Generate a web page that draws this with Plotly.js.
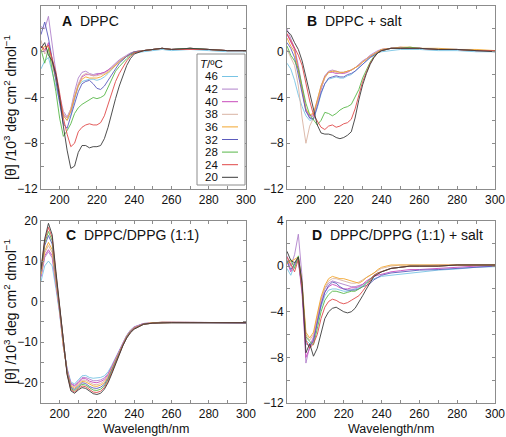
<!DOCTYPE html>
<html>
<head>
<meta charset="utf-8">
<script src="https://cdn.plot.ly/plotly-3.0.1.min.js"></script>
<style>html,body{margin:0;padding:0;background:#fff;}#chart{width:506px;height:437px;}</style>
</head>
<body>
<div id="chart"></div>
<script>
// Wavelength grid (nm)
const wavelength = [190,192,194,196,198,200,202,204,206,208,210,212,214,216,218,220,222,224,226,228,230,232,234,236,238,240,245,250,255,260,270,280,290,300];
// Temperatures (°C), legend order
const temps = ['46','42','40','38','36','32','28','24','20'];

// Panel A: DPPC
const dppc46 = [-1.5,-0.8,-0.5,-1.8,-3.0,-4.3,-5.6,-6.0,-5.5,-4.2,-3.0,-2.6,-2.5,-2.4,-2.4,-2.5,-2.4,-2.2,-1.9,-1.5,-1.2,-0.9,-0.7,-0.4,-0.2,-0.1,0.0,0.1,0.2,0.1,0.2,0.1,0.0,0.0];
const dppc42 = [2.2,2.0,3.1,0.5,-1.8,-3.8,-5.2,-5.7,-5.0,-3.5,-2.3,-1.8,-1.7,-1.9,-2.0,-1.9,-1.9,-1.8,-1.6,-1.3,-1.0,-0.7,-0.5,-0.3,-0.1,0.0,0.1,0.2,0.3,0.2,0.3,0.2,0.1,0.1];
const dppc40 = [0.5,0.0,0.8,-0.6,-2.2,-4.1,-5.5,-5.8,-5.2,-4.0,-2.9,-2.2,-2.0,-2.0,-2.1,-2.0,-1.9,-1.8,-1.6,-1.4,-1.1,-0.8,-0.6,-0.4,-0.2,0.0,0.1,0.2,0.3,0.2,0.3,0.2,0.1,0.1];
const dppc38 = [1.0,-0.2,0.2,-1.0,-2.4,-4.0,-5.4,-5.8,-5.0,-3.8,-2.8,-2.1,-1.9,-2.0,-2.1,-2.1,-2.0,-1.9,-1.7,-1.4,-1.1,-0.8,-0.6,-0.4,-0.2,0.0,0.1,0.2,0.3,0.2,0.3,0.2,0.1,0.1];
const dppc36 = [0.0,0.5,0.4,-0.8,-2.5,-4.2,-5.6,-6.0,-5.2,-4.0,-3.0,-2.4,-2.2,-2.3,-2.3,-2.3,-2.2,-2.0,-1.8,-1.5,-1.2,-0.9,-0.6,-0.4,-0.2,0.0,0.1,0.2,0.3,0.2,0.3,0.2,0.1,0.1];
const dppc32 = [1.5,2.6,1.2,-0.5,-2.5,-4.5,-6.3,-6.7,-5.6,-4.5,-3.5,-2.8,-2.6,-2.5,-2.8,-3.2,-3.3,-3.0,-2.5,-1.9,-1.4,-1.0,-0.7,-0.4,-0.2,0.0,0.1,0.2,0.3,0.2,0.3,0.2,0.1,0.1];
const dppc28 = [0.2,-1.0,0.3,-1.5,-3.5,-5.8,-7.4,-6.9,-6.3,-5.4,-4.9,-4.6,-4.4,-4.2,-4.0,-4.1,-4.0,-3.8,-3.1,-2.3,-1.7,-1.3,-0.9,-0.6,-0.3,-0.1,0.1,0.2,0.3,0.2,0.3,0.2,0.1,0.1];
const dppc24 = [0.5,0.2,0.6,-0.5,-1.8,-3.6,-5.8,-7.2,-8.3,-8.0,-7.0,-6.6,-6.4,-6.3,-6.4,-6.4,-6.2,-5.6,-4.6,-3.6,-2.6,-1.9,-1.3,-0.8,-0.4,-0.1,0.1,0.2,0.3,0.2,0.2,0.2,0.1,0.1];
const dppc20 = [0.3,0.8,-0.3,-0.8,-2.0,-4.0,-6.5,-8.6,-10.2,-10.0,-8.8,-8.2,-8.2,-8.4,-8.3,-8.3,-8.2,-7.6,-6.6,-5.3,-4.1,-3.0,-2.0,-1.2,-0.6,-0.2,0.1,0.2,0.3,0.2,0.3,0.2,0.1,0.1];

// Panel B: DPPC + salt
const dppcSalt46 = [-1.0,-1.5,-2.5,-3.8,-4.8,-5.6,-6.0,-5.9,-4.9,-3.7,-2.8,-2.4,-2.3,-2.2,-2.3,-2.3,-2.1,-2.0,-1.7,-1.4,-1.1,-0.8,-0.5,-0.3,-0.1,0.0,0.1,0.2,0.2,0.2,0.1,0.1,0.0,0.0];
const dppcSalt42 = [2.0,1.2,0.3,-1.2,-3.2,-5.0,-5.8,-5.6,-4.3,-3.0,-2.1,-1.7,-1.6,-1.7,-1.8,-1.8,-1.7,-1.6,-1.4,-1.1,-0.8,-0.6,-0.3,-0.1,0.1,0.2,0.3,0.4,0.3,0.3,0.2,0.2,0.1,0.1];
const dppcSalt40 = [1.5,0.8,0.2,-1.5,-3.5,-5.2,-5.6,-5.5,-4.4,-3.2,-2.2,-1.8,-1.8,-1.9,-1.9,-1.9,-1.8,-1.6,-1.4,-1.2,-0.9,-0.6,-0.4,-0.2,0.0,0.2,0.3,0.3,0.3,0.3,0.2,0.2,0.1,0.1];
const dppcSalt38 = [0.2,-0.5,-1.2,-3.0,-5.8,-8.0,-6.5,-5.8,-4.5,-3.2,-2.3,-1.8,-1.7,-1.8,-1.9,-1.8,-1.7,-1.6,-1.4,-1.2,-0.9,-0.6,-0.4,-0.2,0.0,0.2,0.3,0.3,0.3,0.3,0.2,0.2,0.1,0.1];
const dppcSalt36 = [1.2,0.5,0.0,-1.6,-3.4,-5.0,-5.5,-5.4,-4.2,-3.0,-2.2,-1.8,-1.7,-1.7,-1.8,-1.8,-1.7,-1.6,-1.4,-1.2,-0.9,-0.7,-0.4,-0.2,0.0,0.2,0.3,0.4,0.4,0.3,0.3,0.2,0.2,0.1];
const dppcSalt32 = [0.8,0.3,-0.5,-2.0,-3.6,-5.2,-5.8,-5.9,-4.8,-3.6,-2.8,-2.3,-2.2,-2.1,-2.2,-2.2,-2.0,-1.9,-1.7,-1.4,-1.1,-0.8,-0.5,-0.3,-0.1,0.1,0.3,0.3,0.3,0.3,0.2,0.2,0.1,0.1];
const dppcSalt28 = [0.5,-0.3,-0.8,-1.5,-3.0,-4.5,-5.5,-6.0,-6.4,-6.0,-5.3,-5.4,-5.6,-5.4,-5.1,-4.9,-4.8,-4.6,-4.0,-3.3,-2.3,-1.6,-0.9,-0.4,-0.1,0.1,0.3,0.3,0.4,0.3,0.2,0.2,0.1,0.1];
const dppcSalt24 = [1.6,1.0,0.4,-0.3,-1.2,-2.8,-4.3,-5.5,-6.1,-6.6,-6.8,-6.5,-6.4,-6.6,-6.5,-6.3,-6.2,-5.9,-5.0,-3.8,-2.6,-1.8,-1.0,-0.5,-0.1,0.1,0.3,0.3,0.3,0.3,0.2,0.2,0.1,0.1];
const dppcSalt20 = [1.8,1.5,0.8,0.2,-0.8,-2.2,-3.8,-5.2,-6.4,-7.1,-7.2,-7.2,-7.3,-7.5,-7.6,-7.5,-7.3,-7.0,-5.8,-4.2,-2.9,-1.9,-1.1,-0.5,-0.1,0.1,0.3,0.3,0.3,0.3,0.2,0.2,0.1,0.0];

// Panel C: DPPC/DPPG (1:1)
const mix46 = [5.0,8.8,10.0,8.8,3.2,-3.0,-11.2,-16.4,-19.8,-20.3,-19.3,-18.3,-18.2,-18.7,-18.9,-18.8,-18.7,-18.3,-17.3,-15.7,-13.8,-11.9,-10.0,-8.3,-7.0,-6.2,-5.4,-5.2,-5.1,-5.1,-5.1,-5.1,-5.1,-5.2];
const mix42 = [6.0,10.9,12.3,10.8,4.2,-2.6,-11.0,-16.6,-20.1,-20.6,-19.7,-18.7,-18.7,-19.2,-19.5,-19.5,-19.3,-18.8,-17.7,-16.0,-14.0,-12.1,-10.1,-8.4,-7.1,-6.3,-5.4,-5.2,-5.1,-5.1,-5.1,-5.1,-5.1,-5.2];
const mix40 = [6.3,11.3,12.8,11.3,4.5,-2.4,-11.0,-16.8,-20.3,-20.8,-20.0,-19.0,-19.0,-19.6,-19.9,-20.0,-19.7,-19.2,-18.0,-16.2,-14.2,-12.2,-10.2,-8.4,-7.1,-6.3,-5.4,-5.2,-5.1,-5.1,-5.1,-5.1,-5.1,-5.2];
const mix38 = [6.6,12.0,13.8,12.1,4.8,-2.2,-10.9,-17.0,-20.6,-21.1,-20.3,-19.4,-19.4,-20.0,-20.4,-20.5,-20.2,-19.6,-18.3,-16.4,-14.4,-12.3,-10.3,-8.5,-7.2,-6.4,-5.5,-5.2,-5.1,-5.1,-5.1,-5.1,-5.1,-5.2];
const mix36 = [6.8,12.5,14.6,12.8,5.2,-2.0,-10.8,-17.2,-20.8,-21.4,-20.6,-19.7,-19.8,-20.4,-20.8,-20.9,-20.6,-20.0,-18.6,-16.6,-14.6,-12.4,-10.4,-8.6,-7.3,-6.5,-5.5,-5.2,-5.1,-5.1,-5.1,-5.1,-5.1,-5.2];
const mix32 = [7.4,13.8,16.3,14.2,6.0,-1.6,-10.7,-17.4,-21.1,-21.7,-20.9,-20.0,-20.2,-20.9,-21.3,-21.4,-21.1,-20.4,-18.9,-16.9,-14.8,-12.6,-10.5,-8.7,-7.4,-6.6,-5.5,-5.3,-5.2,-5.2,-5.2,-5.2,-5.2,-5.3];
const mix28 = [7.6,14.4,17.3,15.0,6.5,-1.4,-10.6,-17.6,-21.4,-22.0,-21.2,-20.4,-20.6,-21.3,-21.8,-21.9,-21.6,-20.8,-19.2,-17.2,-15.0,-12.7,-10.6,-8.8,-7.5,-6.7,-5.6,-5.3,-5.2,-5.2,-5.2,-5.2,-5.2,-5.2];
const mix24 = [7.8,15.0,18.3,15.8,7.0,-1.2,-10.6,-17.8,-21.7,-22.3,-21.5,-20.8,-21.0,-21.7,-22.3,-22.4,-22.1,-21.2,-19.6,-17.5,-15.2,-12.9,-10.7,-8.9,-7.6,-6.7,-5.6,-5.3,-5.2,-5.2,-5.2,-5.2,-5.2,-5.2];
const mix20 = [8.0,15.5,19.3,16.5,7.5,-1.0,-10.5,-18.0,-22.0,-22.6,-21.8,-21.2,-21.4,-22.1,-22.7,-22.9,-22.6,-21.6,-20.0,-17.8,-15.4,-13.0,-10.8,-9.0,-7.7,-6.8,-5.6,-5.3,-5.2,-5.2,-5.2,-5.2,-5.2,-5.2];

// Panel D: DPPC/DPPG (1:1) + salt
const mixSalt46 = [-0.2,-0.8,0.1,0.4,-2.0,-6.5,-6.8,-6.5,-5.0,-3.6,-2.6,-2.1,-2.0,-2.0,-2.1,-2.2,-2.2,-2.1,-2.0,-1.9,-1.7,-1.5,-1.3,-1.1,-1.0,-0.9,-0.8,-0.7,-0.6,-0.5,-0.35,-0.25,-0.1,-0.05];
const mixSalt42 = [0.9,0.0,1.0,2.8,-1.0,-8.5,-7.0,-6.2,-4.5,-3.0,-2.0,-1.5,-1.3,-1.4,-1.5,-1.6,-1.7,-1.8,-1.8,-1.7,-1.6,-1.4,-1.1,-0.9,-0.7,-0.5,-0.2,-0.1,0.0,0.0,0.1,0.1,0.1,0.1];
const mixSalt40 = [0.4,-0.5,0.2,0.5,-2.5,-8.0,-7.2,-6.4,-4.8,-3.3,-2.3,-1.8,-1.6,-1.7,-1.9,-2.0,-2.0,-1.9,-1.9,-1.8,-1.6,-1.3,-1.1,-0.9,-0.8,-0.7,-0.5,-0.4,-0.3,-0.3,-0.2,-0.1,0.0,0.0];
const mixSalt38 = [0.6,0.0,0.3,0.6,-1.8,-6.0,-6.5,-6.0,-4.4,-2.9,-1.9,-1.3,-1.1,-1.1,-1.2,-1.3,-1.4,-1.5,-1.5,-1.4,-1.2,-1.0,-0.8,-0.6,-0.4,-0.2,0.0,0.1,0.1,0.1,0.1,0.1,0.1,0.1];
const mixSalt36 = [0.2,0.4,0.6,0.8,-1.5,-5.8,-6.3,-5.8,-4.2,-2.7,-1.7,-1.1,-0.9,-1.0,-1.1,-1.1,-1.2,-1.3,-1.4,-1.5,-1.3,-1.0,-0.8,-0.6,-0.3,-0.1,0.1,0.1,0.1,0.1,0.1,0.1,0.1,0.1];
const mixSalt32 = [0.5,-0.3,0.2,0.7,-2.2,-6.8,-7.0,-6.6,-5.0,-3.4,-2.3,-1.7,-1.4,-1.5,-1.8,-2.0,-2.1,-2.1,-2.1,-2.0,-1.8,-1.7,-1.5,-1.2,-1.0,-0.8,-0.6,-0.5,-0.4,-0.35,-0.3,-0.2,-0.1,0.0];
const mixSalt28 = [0.3,0.6,-0.2,0.9,-1.8,-6.2,-6.6,-6.9,-5.5,-4.0,-3.0,-2.5,-2.2,-2.2,-2.3,-2.4,-2.3,-2.2,-2.2,-2.0,-1.8,-1.5,-1.1,-0.8,-0.6,-0.5,-0.2,-0.1,0.0,0.0,0.0,0.1,0.1,0.1];
const mixSalt24 = [0.8,0.2,-0.5,0.6,-2.0,-6.5,-7.2,-6.8,-6.0,-4.6,-3.6,-3.1,-2.9,-3.0,-3.2,-3.3,-3.2,-3.0,-2.8,-2.6,-2.2,-1.7,-1.2,-0.8,-0.6,-0.5,-0.2,-0.1,0.0,0.0,0.0,0.1,0.1,0.1];
const mixSalt20 = [1.3,0.5,0.3,0.8,-1.5,-7.6,-6.8,-7.9,-7.2,-5.8,-4.6,-4.0,-3.7,-3.6,-3.8,-4.0,-4.1,-4.0,-3.7,-3.2,-2.6,-2.0,-1.4,-0.9,-0.7,-0.5,-0.2,-0.1,0.0,0.0,0.0,0.1,0.1,0.1];

const panelTitles = ['DPPC', 'DPPC + salt', 'DPPC/DPPG (1:1)', 'DPPC/DPPG (1:1) + salt'];
const panelLetters = ['A', 'B', 'C', 'D'];

const lineColors = ['#78c4e4','#b182cc','#c84cbc','#d9b3a3','#f2a62e','#5b5bbd','#58b848','#e04848','#3a3a3a'];

const panels = [
  [dppc46, dppc42, dppc40, dppc38, dppc36, dppc32, dppc28, dppc24, dppc20],
  [dppcSalt46, dppcSalt42, dppcSalt40, dppcSalt38, dppcSalt36, dppcSalt32, dppcSalt28, dppcSalt24, dppcSalt20],
  [mix46, mix42, mix40, mix38, mix36, mix32, mix28, mix24, mix20],
  [mixSalt46, mixSalt42, mixSalt40, mixSalt38, mixSalt36, mixSalt32, mixSalt28, mixSalt24, mixSalt20]
];

const W = 506, H = 437;
const px = x => x / W;
const py = y => 1 - y / H;

const traces = [];
panels.forEach((series, p) => {
  const sfx = p === 0 ? '' : String(p + 1);
  series.forEach((vals, i) => {
    traces.push({
      x: wavelength, y: vals, type: 'scatter', mode: 'lines',
      name: temps[i] + ' °C',
      xaxis: 'x' + sfx, yaxis: 'y' + sfx,
      line: {color: lineColors[i], width: 0.9},
      showlegend: false, hoverinfo: 'x+y+name'
    });
  });
});

const frame = '#8c8c8c';
const FAM = 'Liberation Sans, Arial, sans-serif';
const tickFont = {family: FAM, size: 12, color: '#111'};
function xAxis(dom, anchor) {
  return {domain: dom, anchor: anchor, range: [190, 300], tick0: 200, dtick: 20,
    ticks: 'inside', ticklen: 3, tickcolor: frame, tickwidth: 1,
    minor: {dtick: 10, tick0: 190, ticks: 'inside', ticklen: 3, tickcolor: frame},
    showline: true, linecolor: frame, linewidth: 1, mirror: 'ticks',
    showgrid: false, zeroline: false, tickfont: tickFont, automargin: false};
}
function yAxis(dom, anchor, range, dtick) {
  return {domain: dom, anchor: anchor, range: range, dtick: dtick, tick0: 0,
    ticks: 'inside', ticklen: 3, tickcolor: frame, tickwidth: 1,
    minor: {dtick: dtick / 2, ticks: 'inside', ticklen: 3, tickcolor: frame},
    showline: true, linecolor: frame, linewidth: 1, mirror: 'ticks',
    showgrid: false, zeroline: false, tickfont: tickFont, automargin: false};
}

const colL = [px(41), px(246)], colR = [px(287), px(495)];
const rowT = [py(189), py(6)], rowB = [py(403), py(220.5)];

const annFont = {family: FAM, size: 14, color: '#111'};
const yTitleFont = {family: FAM, size: 14, color: '#111'};
const xTitleFont = {family: FAM, size: 12.5, color: '#111'};
const legFont = {family: FAM, size: 11.5, color: '#111'};
const yTitle = '[θ] /10<sup>3</sup> deg cm<sup>2</sup> dmol<sup>−1</sup>';

const annotations = [];
const labelPos = [[60, 21], [305, 21], [64, 235], [310, 235]];
panelLetters.forEach((L, i) => {
  annotations.push({xref: 'paper', yref: 'paper', x: px(labelPos[i][0]), y: py(labelPos[i][1]),
    xanchor: 'left', yanchor: 'middle', showarrow: false,
    text: '<b>' + L + '</b>  ' + panelTitles[i], font: annFont});
});
annotations.push({xref: 'paper', yref: 'paper', x: px(10), y: py(108), textangle: -90,
  xanchor: 'center', yanchor: 'middle', showarrow: false, text: yTitle, font: yTitleFont});
annotations.push({xref: 'paper', yref: 'paper', x: px(10), y: py(312), textangle: -90,
  xanchor: 'center', yanchor: 'middle', showarrow: false, text: yTitle, font: yTitleFont});
annotations.push({xref: 'paper', yref: 'paper', x: px(146), y: py(428.5),
  xanchor: 'center', yanchor: 'middle', showarrow: false, text: 'Wavelength/nm', font: xTitleFont});
annotations.push({xref: 'paper', yref: 'paper', x: px(391), y: py(428.5),
  xanchor: 'center', yanchor: 'middle', showarrow: false, text: 'Wavelength/nm', font: xTitleFont});

// Legend for panel A (labels on the left of line samples)
const shapes = [];
shapes.push({type: 'rect', xref: 'paper', yref: 'paper', x0: px(197), x1: px(245), y0: py(54), y1: py(185),
  line: {color: frame, width: 1}, fillcolor: 'rgba(255,255,255,1)', layer: 'above'});
annotations.push({xref: 'paper', yref: 'paper', x: px(199), y: py(64), xanchor: 'left', yanchor: 'middle',
  showarrow: false, borderpad: 0, text: '<i>T</i>/ºC', font: legFont});
temps.forEach((t, i) => {
  const yy = 76.5 + i * 12.6;
  annotations.push({xref: 'paper', yref: 'paper', x: px(219), y: py(yy), xanchor: 'right', yanchor: 'middle',
    showarrow: false, borderpad: 0, text: t, font: legFont});
  shapes.push({type: 'line', xref: 'paper', yref: 'paper', x0: px(222), x1: px(238), y0: py(yy), y1: py(yy),
    line: {color: lineColors[i], width: 1}, layer: 'above'});
});

const layout = {
  width: W, height: H, margin: {l: 0, r: 0, t: 0, b: 0},
  paper_bgcolor: '#fff', plot_bgcolor: '#fff', showlegend: false,
  xaxis: xAxis(colL, 'y'), yaxis: yAxis(rowT, 'x', [-12, 4], 4),
  xaxis2: xAxis(colR, 'y2'), yaxis2: yAxis(rowT, 'x2', [-12, 4], 4),
  xaxis3: xAxis(colL, 'y3'), yaxis3: yAxis(rowB, 'x3', [-25, 20], 10),
  xaxis4: xAxis(colR, 'y4'), yaxis4: yAxis(rowB, 'x4', [-12, 4], 4),
  annotations: annotations, shapes: shapes
};

Plotly.newPlot('chart', traces, layout, {displayModeBar: false, staticPlot: true});
</script>
</body>
</html>
